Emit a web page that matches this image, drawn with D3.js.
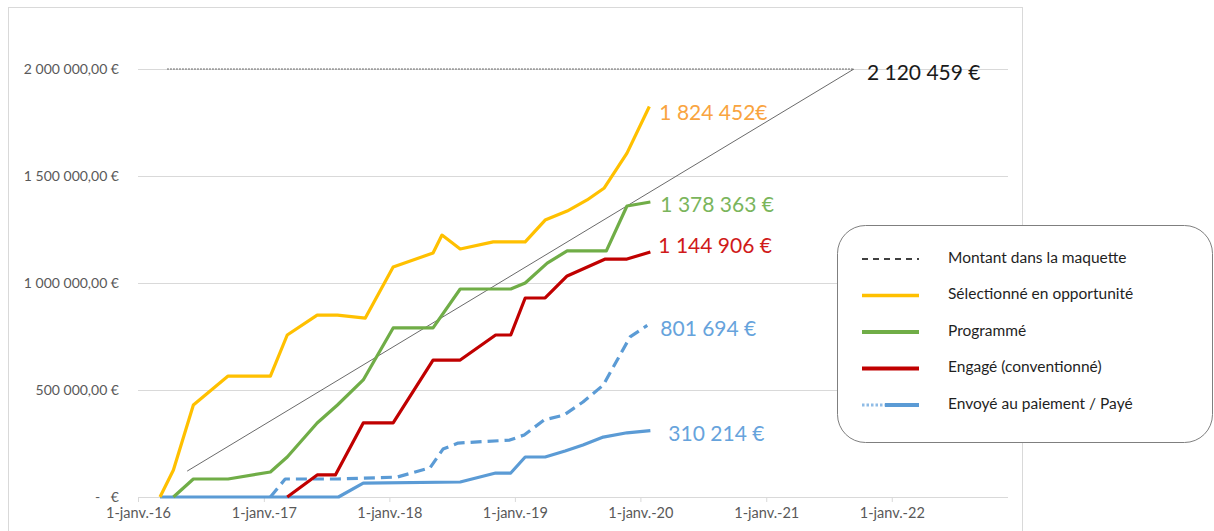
<!DOCTYPE html>
<html>
<head>
<meta charset="utf-8">
<script src="https://cdn.jsdelivr.net/npm/d3@7"></script>
<style>
  body { margin: 0; background: #fff; }
  text { font-family: Lato, "Open Sans", sans-serif; }
</style>
</head>
<body>
<script>
// series: [date, cumulated amount in euros]
const selectionne = [
    ["2016-03-05", 0], ["2016-04-13", 126000], ["2016-06-10", 430000], ["2016-09-19", 565000],
    ["2017-01-20", 565000], ["2017-03-10", 757000], ["2017-06-05", 850000], ["2017-08-03", 850000],
    ["2017-10-23", 836000], ["2018-01-12", 1075000], ["2018-05-08", 1140000], ["2018-06-03", 1224000],
    ["2018-07-26", 1159000], ["2018-10-30", 1192000], ["2019-01-31", 1192000], ["2019-03-30", 1294000],
    ["2019-06-02", 1336000], ["2019-07-30", 1388000], ["2019-09-18", 1444000], ["2019-11-23", 1607000],
    ["2020-01-27", 1824452]
];
const programme = [
    ["2016-04-13", 0], ["2016-06-10", 84000], ["2016-09-19", 84000], ["2017-01-20", 117000],
    ["2017-03-10", 187000], ["2017-06-05", 346000], ["2017-08-03", 430000], ["2017-10-17", 547000],
    ["2018-01-12", 790000], ["2018-05-08", 790000], ["2018-07-26", 972000], ["2018-12-20", 972000],
    ["2019-01-31", 1000000], ["2019-04-05", 1093000], ["2019-06-02", 1150000], ["2019-09-24", 1150000],
    ["2019-11-23", 1360000], ["2020-01-30", 1378363]
];
const engage = [
    ["2017-03-10", 0], ["2017-06-05", 103000], ["2017-07-28", 103000], ["2017-10-17", 346000],
    ["2018-01-12", 346000], ["2018-05-08", 640000], ["2018-07-26", 640000], ["2018-11-06", 757000],
    ["2018-12-20", 757000], ["2019-01-31", 930000], ["2019-03-30", 930000], ["2019-06-02", 1033000],
    ["2019-09-21", 1112000], ["2019-11-23", 1112000], ["2020-01-30", 1144906]
];
const envoye = [
    ["2017-01-20", 0], ["2017-03-04", 84000], ["2017-08-03", 84000], ["2018-01-23", 93000],
    ["2018-04-29", 136000], ["2018-06-06", 224000], ["2018-07-20", 252000], ["2018-12-17", 266000],
    ["2019-01-28", 290000], ["2019-03-27", 360000], ["2019-05-24", 383000], ["2019-07-18", 444000],
    ["2019-09-15", 523000], ["2019-12-02", 748000], ["2020-01-21", 801694]
];
const paye = [
    ["2016-03-05", 0], ["2017-08-06", 0], ["2017-10-17", 65000], ["2018-07-26", 70000],
    ["2018-11-06", 112000], ["2018-12-20", 112000], ["2019-01-31", 187000], ["2019-03-30", 187000],
    ["2019-05-27", 215000], ["2019-07-18", 243000], ["2019-09-15", 280000], ["2019-11-23", 300000],
    ["2020-01-30", 310214]
];
const maquetteTrend = [["2016-05-23", 121000], ["2021-09-13", 2000000]];
const maquetteLevel = [["2016-03-26", 2000000], ["2021-09-13", 2000000]];

const endLabels = ["2 120 459 €", "1 824 452€", "1 378 363 €", "1 144 906 €", "801 694 €", "310 214 €"];
const legendLabels = ["Montant dans la maquette", "Sélectionné en opportunité", "Programmé",
    "Engagé (conventionné)", "Envoyé au paiement / Payé"];
const yTicks = [0, 500000, 1000000, 1500000, 2000000];
const xTicks = ["2016-01-01", "2017-01-01", "2018-01-01", "2019-01-01", "2020-01-01", "2021-01-01", "2022-01-01"];

const width = 1214, height = 531;
const parse = d3.timeParse("%Y-%m-%d");

const svg = d3.select("body").append("svg")
    .attr("width", width)
    .attr("height", height);

// chart frame
svg.append("rect")
    .attr("x", 8.5).attr("y", 7.5)
    .attr("width", 1014).attr("height", 600)
    .attr("fill", "#fff")
    .attr("stroke", "#d9d9d9");

const x = d3.scaleTime()
    .domain([parse("2016-01-01"), parse("2022-12-05")])
    .range([138, 1008]);

const y = d3.scaleLinear()
    .domain([0, 2000000])
    .range([497, 69]);

const fr = d3.formatLocale({ decimal: ",", thousands: "\u00a0", grouping: [3], currency: ["", " €"] });
const fmt = fr.format(",.2f");

// gridlines + y labels
const yg = svg.append("g")
    .attr("transform", "translate(138,0)")
    .call(d3.axisLeft(y).tickValues(yTicks).tickSize(-870).tickPadding(19)
        .tickFormat(d => d === 0 ? "-   €" : fmt(d) + " €"));
yg.select(".domain").remove();
yg.selectAll(".tick line").attr("stroke", "#d9d9d9");
yg.selectAll(".tick text")
    .attr("fill", "#595959")
    .style("font-size", "14px")
    .style("white-space", "pre");

// x axis
const xg = svg.append("g")
    .attr("transform", "translate(0,497)")
    .call(d3.axisBottom(x).tickValues(xTicks.map(parse)).tickSize(5).tickPadding(6)
        .tickFormat(d => "1-janv.-" + d3.timeFormat("%y")(d)));
xg.select(".domain").attr("stroke", "#d9d9d9").attr("d", "M138,0.5H1008");
xg.selectAll(".tick line").attr("stroke", "#d9d9d9");
xg.selectAll(".tick text")
    .attr("fill", "#595959")
    .style("font-size", "14.5px");

const line = d3.line()
    .x(d => x(parse(d[0])))
    .y(d => y(d[1]));

svg.append("path").datum(maquetteLevel)
    .attr("d", line).attr("fill", "none")
    .attr("stroke", "#404040").attr("stroke-width", 1).attr("stroke-dasharray", "1.5,1.5");
svg.append("path").datum(maquetteTrend)
    .attr("d", line).attr("fill", "none")
    .attr("stroke", "#595959").attr("stroke-width", 0.9);

const series = [
    { data: paye, color: "#5b9bd5", dash: null },
    { data: envoye, color: "#5b9bd5", dash: "11,6" },
    { data: engage, color: "#c00000", dash: null },
    { data: programme, color: "#70ad47", dash: null },
    { data: selectionne, color: "#ffc000", dash: null }
];
series.forEach(s => {
    svg.append("path").datum(s.data)
        .attr("d", line)
        .attr("fill", "none")
        .attr("stroke", s.color)
        .attr("stroke-width", 3.2)
        .attr("stroke-linejoin", "round")
        .attr("stroke-dasharray", s.dash);
});

// end of series labels
const ends = [
    { pt: maquetteTrend[1], dx: 13, dy: 6, color: "#1a1a1a" },
    { pt: selectionne[selectionne.length - 1], dx: 10, dy: 8, color: "#f9a43f" },
    { pt: programme[programme.length - 1], dx: 10, dy: 5, color: "#7ab55c" },
    { pt: engage[engage.length - 1], dx: 8, dy: -4, color: "#d01a1a" },
    { pt: envoye[envoye.length - 1], dx: 13, dy: 5, color: "#66a3dc" },
    { pt: paye[paye.length - 1], dx: 18, dy: 5, color: "#66a3dc" }
];
svg.selectAll(".endlabel")
    .data(ends)
    .enter().append("text")
    .attr("x", d => x(parse(d.pt[0])) + d.dx)
    .attr("y", d => y(d.pt[1]) + d.dy)
    .attr("dominant-baseline", "middle")
    .attr("fill", d => d.color)
    .style("font-size", "21px")
    .text((d, i) => endLabels[i]);

// legend
const lg = svg.append("g").attr("transform", "translate(837,225)");
lg.append("rect")
    .attr("x", 0.5).attr("y", 0.5)
    .attr("width", 375).attr("height", 217)
    .attr("rx", 28)
    .attr("fill", "#fff")
    .attr("stroke", "#7f7f7f");

const legendStyles = [
    { color: "#404040", w: 2, dash: "6,5" },
    { color: "#ffc000", w: 3.5, dash: null },
    { color: "#70ad47", w: 4, dash: null },
    { color: "#c00000", w: 4, dash: null },
    { color: "#5b9bd5", w: 4, dash: null }
];
legendLabels.forEach((label, i) => {
    const ly = 34 + i * 36.5;
    const st = legendStyles[i];
    if (i === 4) {
        lg.append("line")
            .attr("x1", 25).attr("x2", 48).attr("y1", ly).attr("y2", ly)
            .attr("stroke", "#8fbce6").attr("stroke-width", 3).attr("stroke-dasharray", "2.5,2");
        lg.append("line")
            .attr("x1", 48).attr("x2", 82).attr("y1", ly).attr("y2", ly)
            .attr("stroke", st.color).attr("stroke-width", st.w);
    } else {
        lg.append("line")
            .attr("x1", 25).attr("x2", 82).attr("y1", ly).attr("y2", ly)
            .attr("stroke", st.color).attr("stroke-width", st.w)
            .attr("stroke-dasharray", st.dash);
    }
    lg.append("text")
        .attr("x", 111).attr("y", ly)
        .attr("dominant-baseline", "middle")
        .attr("fill", "#1f1f1f")
        .style("font-size", "15.5px")
        .text(label);
});
</script>
</body>
</html>
